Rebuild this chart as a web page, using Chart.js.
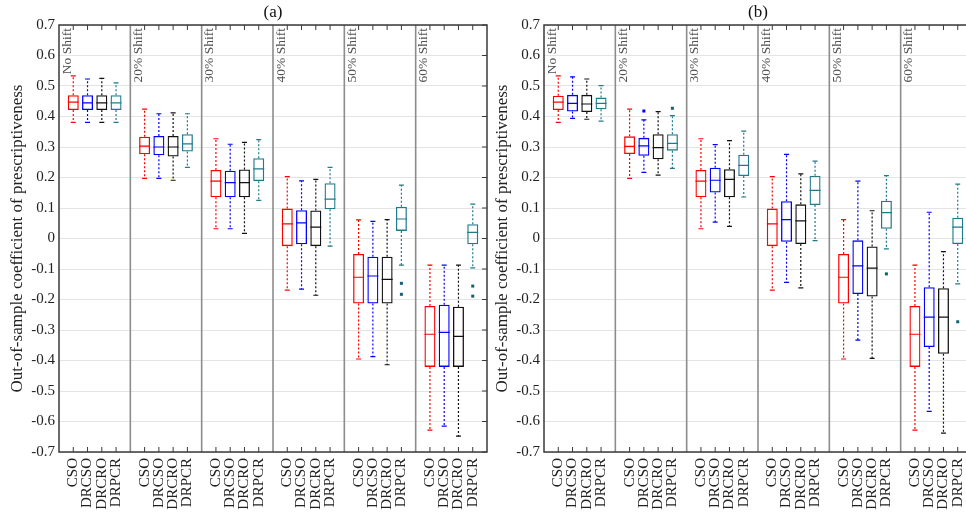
<!DOCTYPE html>
<html>
<head>
<meta charset="utf-8">
<script src="https://cdn.jsdelivr.net/npm/chart.js@4.4.1/dist/chart.umd.min.js"></script>
<style>
  html, body { margin: 0; padding: 0; background: #fff; overflow: hidden; }
  body { width: 966px; height: 520px; position: relative; }
  .panel { position: absolute; top: 0; width: 490px; height: 520px; }
  #panelA { left: 0; }
  #panelB { left: 485px; }
</style>
</head>
<body>
<div class="panel" id="panelA"><canvas id="chartA" width="490" height="520"></canvas></div>
<div class="panel" id="panelB"><canvas id="chartB" width="490" height="520"></canvas></div>
<script>
//categorias
const groups = ["No Shift", "20% Shift", "30% Shift", "40% Shift", "50% Shift", "60% Shift"];
const methods = ["CSO", "DRCSO", "DRCRO", "DRPCR"];
const colors = ["#ff0000", "#0000ff", "#111111", "#1f7a8c"];
const outlierColors = ["#ff0000", "#0000ff", "#111111", "#0e6373"];

//panel (a): una fila por grupo, una columna por metodo
const aLow  = [[0.381, 0.381, 0.381, 0.381], [0.197, 0.197, 0.191, 0.233], [0.032, 0.032, 0.017, 0.125], [-0.169, -0.166, -0.186, -0.025], [-0.395, -0.387, -0.414, -0.087], [-0.628, -0.615, -0.648, -0.096]];
const aQ1   = [[0.421, 0.421, 0.421, 0.421], [0.276, 0.273, 0.269, 0.285], [0.135, 0.135, 0.135, 0.188], [-0.025, -0.019, -0.025, 0.096], [-0.213, -0.213, -0.213, 0.025], [-0.421, -0.421, -0.421, -0.019]];
const aMed  = [[0.447, 0.445, 0.445, 0.445], [0.303, 0.300, 0.300, 0.310], [0.188, 0.183, 0.183, 0.228], [0.048, 0.051, 0.037, 0.129], [-0.127, -0.123, -0.134, 0.064], [-0.314, -0.308, -0.321, 0.020]];
const aQ3   = [[0.470, 0.470, 0.470, 0.470], [0.334, 0.336, 0.336, 0.342], [0.225, 0.222, 0.226, 0.263], [0.098, 0.093, 0.092, 0.181], [-0.051, -0.060, -0.060, 0.104], [-0.221, -0.217, -0.224, 0.047]];
const aHigh = [[0.533, 0.523, 0.525, 0.510], [0.424, 0.409, 0.412, 0.409], [0.327, 0.309, 0.315, 0.324], [0.203, 0.189, 0.194, 0.233], [0.061, 0.056, 0.062, 0.175], [-0.087, -0.087, -0.087, 0.113]];
// [grupo, metodo, valor]
const aOutliers = [[4, 3, -0.147], [4, 3, -0.183], [5, 3, -0.156], [5, 3, -0.189]];

//panel (b)
const bLow  = [[0.381, 0.394, 0.391, 0.385], [0.197, 0.217, 0.208, 0.230], [0.032, 0.054, 0.040, 0.136], [-0.169, -0.144, -0.162, -0.007], [-0.395, -0.333, -0.393, -0.034], [-0.628, -0.567, -0.638, -0.149]];
const bQ1   = [[0.421, 0.416, 0.415, 0.424], [0.277, 0.271, 0.260, 0.288], [0.135, 0.151, 0.135, 0.205], [-0.025, -0.011, -0.018, 0.110], [-0.213, -0.182, -0.190, 0.032], [-0.421, -0.356, -0.378, -0.018]];
const bMed  = [[0.447, 0.443, 0.441, 0.443], [0.302, 0.304, 0.298, 0.312], [0.188, 0.191, 0.194, 0.240], [0.048, 0.062, 0.058, 0.158], [-0.127, -0.090, -0.097, 0.085], [-0.314, -0.258, -0.258, 0.037]];
const bQ3   = [[0.468, 0.471, 0.471, 0.462], [0.335, 0.330, 0.342, 0.342], [0.225, 0.232, 0.227, 0.275], [0.098, 0.122, 0.112, 0.206], [-0.051, -0.006, -0.026, 0.124], [-0.221, -0.160, -0.163, 0.068]];
const bHigh = [[0.533, 0.530, 0.523, 0.501], [0.424, 0.389, 0.416, 0.403], [0.327, 0.308, 0.321, 0.352], [0.203, 0.276, 0.212, 0.254], [0.062, 0.188, 0.091, 0.206], [-0.087, 0.086, -0.043, 0.178]];
const bOutliers = [[1, 1, 0.418], [1, 3, 0.427], [4, 3, -0.116], [5, 3, -0.273]];

//eje y
const yMin = -0.7;
const yMax = 0.7;
const yStep = 0.1;
const yTitle = "Out-of-sample coefficient of prescriptiveness";

const serif = "'Liberation Serif', 'DejaVu Serif', serif";

//posiciones en el eje x: 0 borde, 5,10,.. separadores
const slotsPerGroup = methods.length + 1;
const xLabels = [];
for (let i = 0; i <= groups.length * slotsPerGroup; i++) {
  xLabels.push(i % slotsPerGroup === 0 ? "" : methods[i % slotsPerGroup - 1]);
}

const makeChart = (canvasId, panelTitle, low, q1, med, q3, high, outliers) => {
  const boxes = xLabels.map(() => null);
  const borders = xLabels.map(() => "transparent");
  groups.forEach((g, gi) => {
    methods.forEach((m, mi) => {
      const idx = gi * slotsPerGroup + mi + 1;
      boxes[idx] = [q1[gi][mi], q3[gi][mi]];
      borders[idx] = colors[mi];
    });
  });

  //dibuja bigotes, medianas, atipicos, separadores y marco
  const boxPlugin = {
    id: "boxExtras",
    beforeDatasetsDraw(chart) {
      const { ctx, chartArea, scales } = chart;
      ctx.save();
      ctx.strokeStyle = "#8c8c8c";
      ctx.lineWidth = 1.6;
      for (let g = 1; g < groups.length; g++) {
        const x = scales.x.getPixelForValue(g * slotsPerGroup);
        ctx.beginPath();
        ctx.moveTo(x, chartArea.top);
        ctx.lineTo(x, chartArea.bottom);
        ctx.stroke();
      }
      ctx.restore();
    },
    afterDatasetsDraw(chart) {
      const { ctx, scales } = chart;
      const meta = chart.getDatasetMeta(0);
      const ys = scales.y;
      ctx.save();
      groups.forEach((g, gi) => {
        methods.forEach((m, mi) => {
          const idx = gi * slotsPerGroup + mi + 1;
          const x = scales.x.getPixelForValue(idx);
          const half = meta.data[idx].width / 2;
          ctx.strokeStyle = colors[mi];
          ctx.lineWidth = 1.2;
          //bigotes punteados
          ctx.setLineDash([2, 2]);
          ctx.beginPath();
          ctx.moveTo(x, ys.getPixelForValue(q3[gi][mi]));
          ctx.lineTo(x, ys.getPixelForValue(high[gi][mi]));
          ctx.moveTo(x, ys.getPixelForValue(q1[gi][mi]));
          ctx.lineTo(x, ys.getPixelForValue(low[gi][mi]));
          ctx.stroke();
          ctx.setLineDash([]);
          //topes
          ctx.beginPath();
          [low[gi][mi], high[gi][mi]].forEach((v) => {
            const y = ys.getPixelForValue(v);
            ctx.moveTo(x - 2.5, y);
            ctx.lineTo(x + 2.5, y);
          });
          //mediana
          const ym = ys.getPixelForValue(med[gi][mi]);
          ctx.moveTo(x - half, ym);
          ctx.lineTo(x + half, ym);
          ctx.stroke();
        });
      });
      outliers.forEach(([gi, mi, v]) => {
        const x = scales.x.getPixelForValue(gi * slotsPerGroup + mi + 1);
        const y = ys.getPixelForValue(v);
        ctx.fillStyle = outlierColors[mi];
        ctx.fillRect(x - 1.5, y - 1.5, 3, 3);
      });
      ctx.restore();
    },
    afterDraw(chart) {
      const { ctx, chartArea, scales } = chart;
      const { left, right, top, bottom } = chartArea;
      ctx.save();
      //marco
      ctx.strokeStyle = "#3a3a3a";
      ctx.lineWidth = 1.5;
      ctx.strokeRect(left, top, right - left, bottom - top);
      //marcas
      ctx.lineWidth = 1;
      ctx.beginPath();
      xLabels.forEach((lab, i) => {
        if (!lab) return;
        const x = scales.x.getPixelForValue(i);
        ctx.moveTo(x, top);
        ctx.lineTo(x, top + 5);
        ctx.moveTo(x, bottom);
        ctx.lineTo(x, bottom - 5);
      });
      scales.y.ticks.forEach((t) => {
        const y = scales.y.getPixelForValue(t.value);
        ctx.moveTo(right, y);
        ctx.lineTo(right - 5, y);
      });
      ctx.stroke();
      //nombres de grupo
      ctx.fillStyle = "#505050";
      ctx.font = "13.5px " + serif;
      ctx.textAlign = "right";
      ctx.textBaseline = "middle";
      groups.forEach((g, gi) => {
        const x = scales.x.getPixelForValue(gi * slotsPerGroup) + 8;
        ctx.save();
        ctx.translate(x, top + 3);
        ctx.rotate(-Math.PI / 2);
        ctx.fillText(g, 0, 0);
        ctx.restore();
      });
      //titulo del panel
      ctx.fillStyle = "#111";
      ctx.font = "17px " + serif;
      ctx.textAlign = "center";
      ctx.fillText(panelTitle, (left + right) / 2, 13);
      ctx.restore();
    }
  };

  return new Chart(document.getElementById(canvasId), {
    type: "bar",
    data: {
      labels: xLabels,
      datasets: [{
        data: boxes,
        borderColor: borders,
        backgroundColor: "rgba(255,255,255,0)",
        borderWidth: 1.3,
        borderSkipped: false,
        barPercentage: 0.77,
        categoryPercentage: 1
      }]
    },
    options: {
      responsive: false,
      animation: false,
      layout: { padding: { top: 25, right: 3, left: 0, bottom: 0 } },
      plugins: { legend: { display: false }, tooltip: { enabled: false }, title: { display: false } },
      scales: {
        x: {
          type: "category",
          offset: false,
          grid: { display: false, drawTicks: false },
          border: { display: false },
          ticks: {
            autoSkip: false,
            maxRotation: 90,
            minRotation: 90,
            padding: 6,
            color: "#222",
            font: { family: serif, size: 15 }
          },
          afterFit: (s) => {
            s.height = 68;
            s.paddingLeft = 0;
            s.paddingRight = 0;
          }
        },
        y: {
          min: yMin,
          max: yMax,
          grid: { color: "#e4e4e4", lineWidth: 1, drawTicks: false },
          border: { display: false },
          ticks: {
            stepSize: yStep,
            padding: 4,
            color: "#222",
            font: { family: serif, size: 15 },
            callback: (v) => String(Math.round(v * 10) / 10)
          },
          title: {
            display: true,
            text: yTitle,
            color: "#222",
            font: { family: serif, size: 17 },
            padding: { top: 7, bottom: 0 }
          },
          afterFit: (s) => {
            s.width = 59;
            s.paddingTop = 0;
            s.paddingBottom = 0;
          }
        }
      }
    },
    plugins: [boxPlugin]
  });
};

makeChart("chartA", "(a)", aLow, aQ1, aMed, aQ3, aHigh, aOutliers);
makeChart("chartB", "(b)", bLow, bQ1, bMed, bQ3, bHigh, bOutliers);
</script>
</body>
</html>
